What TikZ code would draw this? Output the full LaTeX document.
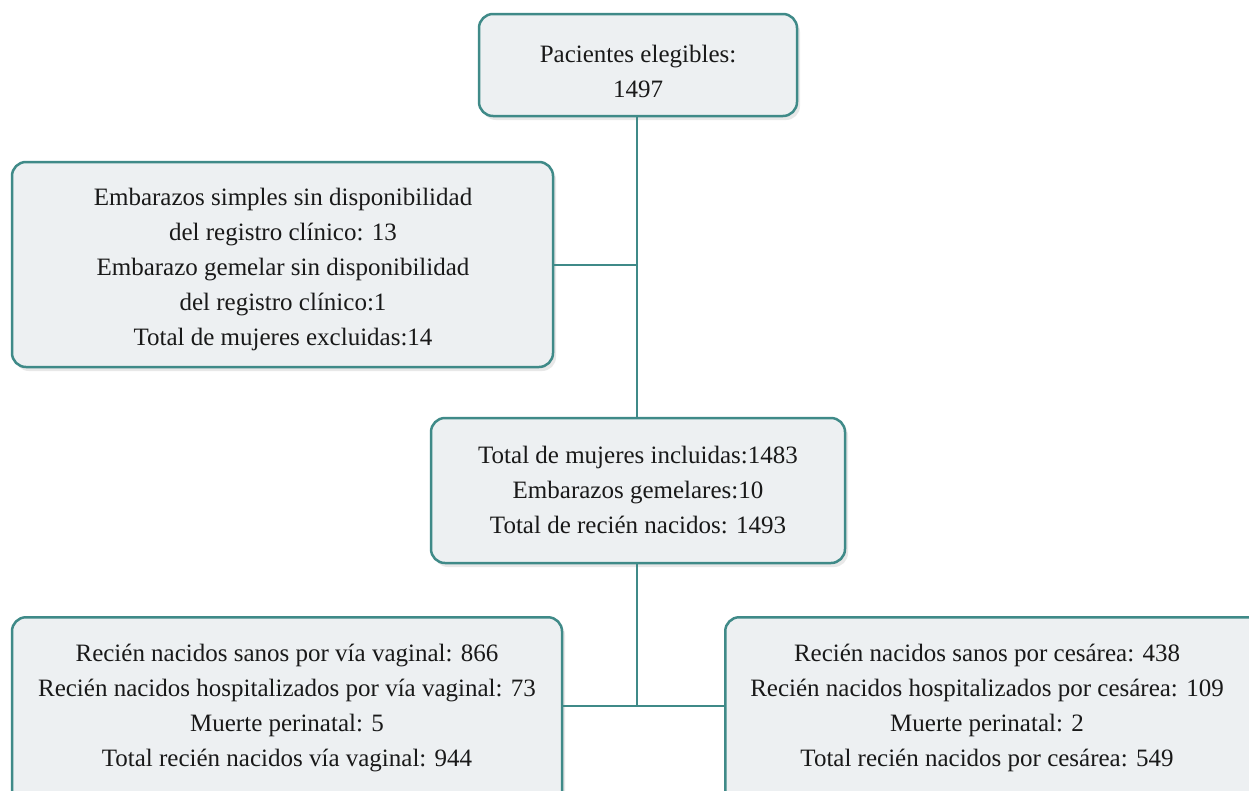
\documentclass[tikz,border=0pt]{standalone}
\usepackage{fontspec}
\setmainfont{Liberation Serif}
\usetikzlibrary{shadows}
\definecolor{teal1}{HTML}{3F8A88}
\definecolor{boxfill}{HTML}{EDF0F2}
\tikzset{
  box/.style={draw=teal1, line width=2.5pt, fill=boxfill, rounded corners=14pt,
    drop shadow={opacity=0.18, shadow xshift=3pt, shadow yshift=-4pt},
    inner sep=0pt},
  txt/.style={align=center, inner sep=0pt, font=\fontsize{25}{35}\selectfont, text=black!90},
  link/.style={draw=teal1, line width=2.2pt}
}
\begin{document}
\begin{tikzpicture}[x=1pt,y=-1pt]
\useasboundingbox (0,0) rectangle (1249,790);
\fill[white] (0,0) rectangle (1249,790);
\node[box, minimum width=318pt, minimum height=102pt] (top) at (638,65) {};
\node[box, minimum width=541pt, minimum height=205pt] (excl) at (282.5,264.5) {};
\node[box, minimum width=414pt, minimum height=145pt] (mid) at (638,490.5) {};
\node[box, minimum width=550pt, minimum height=200pt, anchor=north] (bl) at (287,616) {};
\node[box, minimum width=540pt, minimum height=200pt, anchor=north west] (br) at (724,616) {};
\node[txt] (toptext) at (638,71) {Pacientes elegibles:\\1497};
\node[txt] (excltext) at (283,269) {Embarazos simples sin disponibilidad\\del registro clínico: 13\\Embarazo gemelar sin disponibilidad\\del registro clínico:1\\Total de mujeres excluidas:14};
\node[txt] (midtext) at (638,489.5) {Total de mujeres incluidas:1483\\Embarazos gemelares:10\\Total de recién nacidos: 1493};
\node[txt] (bltext) at (287,707.5) {Recién nacidos sanos por vía vaginal: 866\\Recién nacidos hospitalizados por vía vaginal: 73\\Muerte perinatal: 5\\Total recién nacidos vía vaginal: 944};
\node[txt] (brtext) at (987,707.5) {Recién nacidos sanos por cesárea: 438\\Recién nacidos hospitalizados por cesárea: 109\\Muerte perinatal: 2\\Total recién nacidos por cesárea: 549};
\coordinate (j1) at (637,265);
\coordinate (j2) at (637,706);
\draw[link] (top.south -| j1) -- (mid.north -| j1);
\draw[link] (excl.east |- j1) -- (j1);
\draw[link] (mid.south -| j2) -- (j2);
\draw[link] (bl.east |- j2) -- (br.west |- j2);
\end{tikzpicture}
\end{document}
